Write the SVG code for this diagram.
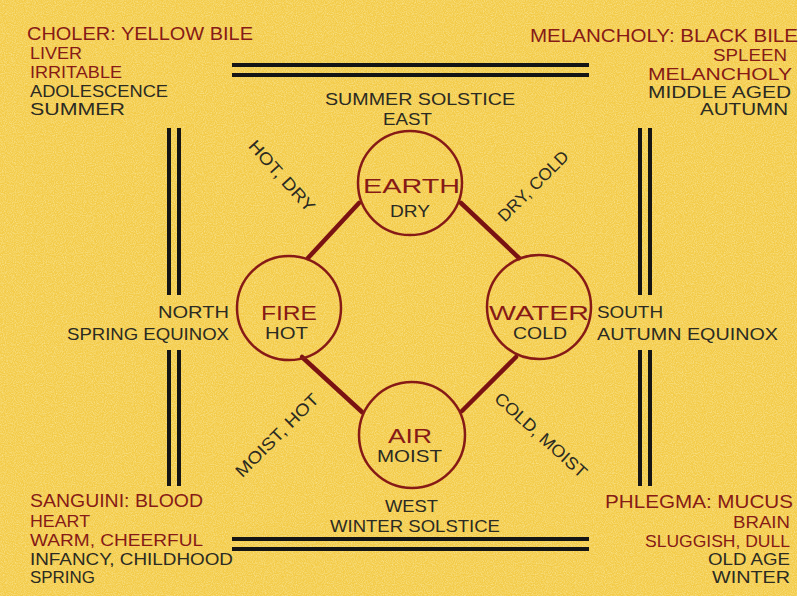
<svg xmlns="http://www.w3.org/2000/svg" width="803" height="602" viewBox="0 0 803 602">
<defs>
<filter id="mottle" x="0" y="0" width="100%" height="100%">
<feTurbulence type="fractalNoise" baseFrequency="0.9" numOctaves="2" seed="3" result="n"/>
<feColorMatrix in="n" type="matrix" values="0 0 0 0 1  0 0 0 0 0.93  0 0 0 0 0.6  0 0 0 -1.6 1.05"/>
</filter>
<style>
text{font-family:"Liberation Sans","DejaVu Sans",sans-serif;font-size:17px;}
.r{fill:#861a16;}
.d{fill:#2b2a22;}
.big{font-size:21px;}
.hd{font-size:19px;}
.sm{font-size:16px;}
.c{text-anchor:middle;}
.bar{fill:#151515;}
.ring{fill:none;stroke:#861a16;stroke-width:2.5;}
.link{stroke:#7a1212;stroke-width:4.5;stroke-linecap:round;}
</style>
</defs>
<rect x="0" y="0" width="803" height="602" fill="#ffffff"/>
<rect x="0" y="0" width="797" height="596" fill="#f3cb48"/>
<rect x="0" y="0" width="797" height="596" filter="url(#mottle)" opacity="0.55"/>

<g id="frame">
<rect class="bar" x="232" y="63" width="357" height="4"/>
<rect class="bar" x="232" y="73" width="357" height="4"/>
<rect class="bar" x="232" y="537" width="357" height="4"/>
<rect class="bar" x="232" y="547" width="357" height="4"/>
<rect class="bar" x="167" y="128" width="4" height="167"/>
<rect class="bar" x="177" y="128" width="4" height="167"/>
<rect class="bar" x="167" y="350" width="4" height="136"/>
<rect class="bar" x="177" y="350" width="4" height="136"/>
<rect class="bar" x="638" y="128" width="4" height="167"/>
<rect class="bar" x="648" y="128" width="4" height="167"/>
<rect class="bar" x="638" y="350" width="4" height="136"/>
<rect class="bar" x="648" y="350" width="4" height="136"/>
</g>

<g id="connectors">
<line class="link" x1="359" y1="203" x2="308" y2="258"/>
<line class="link" x1="461" y1="203" x2="519" y2="258"/>
<line class="link" x1="302" y1="357" x2="362" y2="412"/>
<line class="link" x1="462" y1="411" x2="516" y2="357"/>
</g>

<g id="earth">
<circle class="ring" cx="410" cy="183" r="52"/>
<text class="r big" x="363" y="193" textLength="97" lengthAdjust="spacingAndGlyphs">EARTH</text>
<text class="d" x="390" y="217" textLength="40" lengthAdjust="spacingAndGlyphs">DRY</text>
</g>
<g id="fire">
<circle class="ring" cx="289" cy="308" r="52"/>
<text class="r big" x="261" y="320" textLength="56" lengthAdjust="spacingAndGlyphs">FIRE</text>
<text class="d" x="265" y="339" textLength="43" lengthAdjust="spacingAndGlyphs">HOT</text>
</g>
<g id="water">
<circle class="ring" cx="539" cy="307" r="52"/>
<text class="r big" x="489" y="320" textLength="100" lengthAdjust="spacingAndGlyphs">WATER</text>
<text class="d" x="513" y="339" textLength="54" lengthAdjust="spacingAndGlyphs">COLD</text>
</g>
<g id="air">
<circle class="ring" cx="412" cy="435" r="53"/>
<text class="r big" x="388" y="443" textLength="44" lengthAdjust="spacingAndGlyphs">AIR</text>
<text class="d" x="377" y="462" textLength="65" lengthAdjust="spacingAndGlyphs">MOIST</text>
</g>

<g id="directions">
<text class="d" x="325" y="105" textLength="190" lengthAdjust="spacingAndGlyphs">SUMMER SOLSTICE</text>
<text class="d" x="383" y="125" textLength="49" lengthAdjust="spacingAndGlyphs">EAST</text>
<text class="d" x="158" y="318" textLength="71" lengthAdjust="spacingAndGlyphs">NORTH</text>
<text class="d" x="67" y="340" textLength="162" lengthAdjust="spacingAndGlyphs">SPRING EQUINOX</text>
<text class="d" x="597" y="318" textLength="66" lengthAdjust="spacingAndGlyphs">SOUTH</text>
<text class="d" x="597" y="340" textLength="181" lengthAdjust="spacingAndGlyphs">AUTUMN EQUINOX</text>
<text class="d" x="385" y="512" textLength="53" lengthAdjust="spacingAndGlyphs">WEST</text>
<text class="d" x="330" y="532" textLength="170" lengthAdjust="spacingAndGlyphs">WINTER SOLSTICE</text>
</g>

<g id="qualities">
<text class="d c" transform="translate(282,176) rotate(48)" y="6" textLength="90" lengthAdjust="spacingAndGlyphs">HOT, DRY</text>
<text class="d c" transform="translate(533,186) rotate(-45)" y="6" textLength="92" lengthAdjust="spacingAndGlyphs">DRY, COLD</text>
<text class="d c" transform="translate(277,435) rotate(-45)" y="6" textLength="110" lengthAdjust="spacingAndGlyphs">MOIST, HOT</text>
<text class="d c" transform="translate(541,435) rotate(42)" y="6" textLength="118" lengthAdjust="spacingAndGlyphs">COLD, MOIST</text>
</g>

<g id="choler">
<text class="r hd" x="27" y="40" textLength="226" lengthAdjust="spacingAndGlyphs">CHOLER: YELLOW BILE</text>
<text class="r sm" x="30" y="59" textLength="52" lengthAdjust="spacingAndGlyphs">LIVER</text>
<text class="r" x="30" y="78" textLength="92" lengthAdjust="spacingAndGlyphs">IRRITABLE</text>
<text class="d" x="30" y="97" textLength="138" lengthAdjust="spacingAndGlyphs">ADOLESCENCE</text>
<text class="d" x="30" y="115" textLength="95" lengthAdjust="spacingAndGlyphs">SUMMER</text>
</g>
<g id="melancholy">
<text class="r hd" x="530" y="42" textLength="268" lengthAdjust="spacingAndGlyphs">MELANCHOLY: BLACK BILE</text>
<text class="r sm" x="713" y="61" textLength="74" lengthAdjust="spacingAndGlyphs">SPLEEN</text>
<text class="r" x="648" y="80" textLength="144" lengthAdjust="spacingAndGlyphs">MELANCHOLY</text>
<text class="d" x="648" y="98" textLength="143" lengthAdjust="spacingAndGlyphs">MIDDLE AGED</text>
<text class="d" x="700" y="115" textLength="88" lengthAdjust="spacingAndGlyphs">AUTUMN</text>
</g>
<g id="sanguine">
<text class="r hd" x="30" y="507" textLength="173" lengthAdjust="spacingAndGlyphs">SANGUINI: BLOOD</text>
<text class="r sm" x="30" y="527" textLength="60" lengthAdjust="spacingAndGlyphs">HEART</text>
<text class="r" x="30" y="546" textLength="173" lengthAdjust="spacingAndGlyphs">WARM, CHEERFUL</text>
<text class="d" x="30" y="565" textLength="203" lengthAdjust="spacingAndGlyphs">INFANCY, CHILDHOOD</text>
<text class="d" x="30" y="583" textLength="65" lengthAdjust="spacingAndGlyphs">SPRING</text>
</g>
<g id="phlegm">
<text class="r hd" x="605" y="508" textLength="188" lengthAdjust="spacingAndGlyphs">PHLEGMA: MUCUS</text>
<text class="r sm" x="733" y="528" textLength="57" lengthAdjust="spacingAndGlyphs">BRAIN</text>
<text class="r" x="645" y="547" textLength="145" lengthAdjust="spacingAndGlyphs">SLUGGISH, DULL</text>
<text class="d" x="708" y="565" textLength="82" lengthAdjust="spacingAndGlyphs">OLD AGE</text>
<text class="d" x="712" y="583" textLength="78" lengthAdjust="spacingAndGlyphs">WINTER</text>
</g>
</svg>
